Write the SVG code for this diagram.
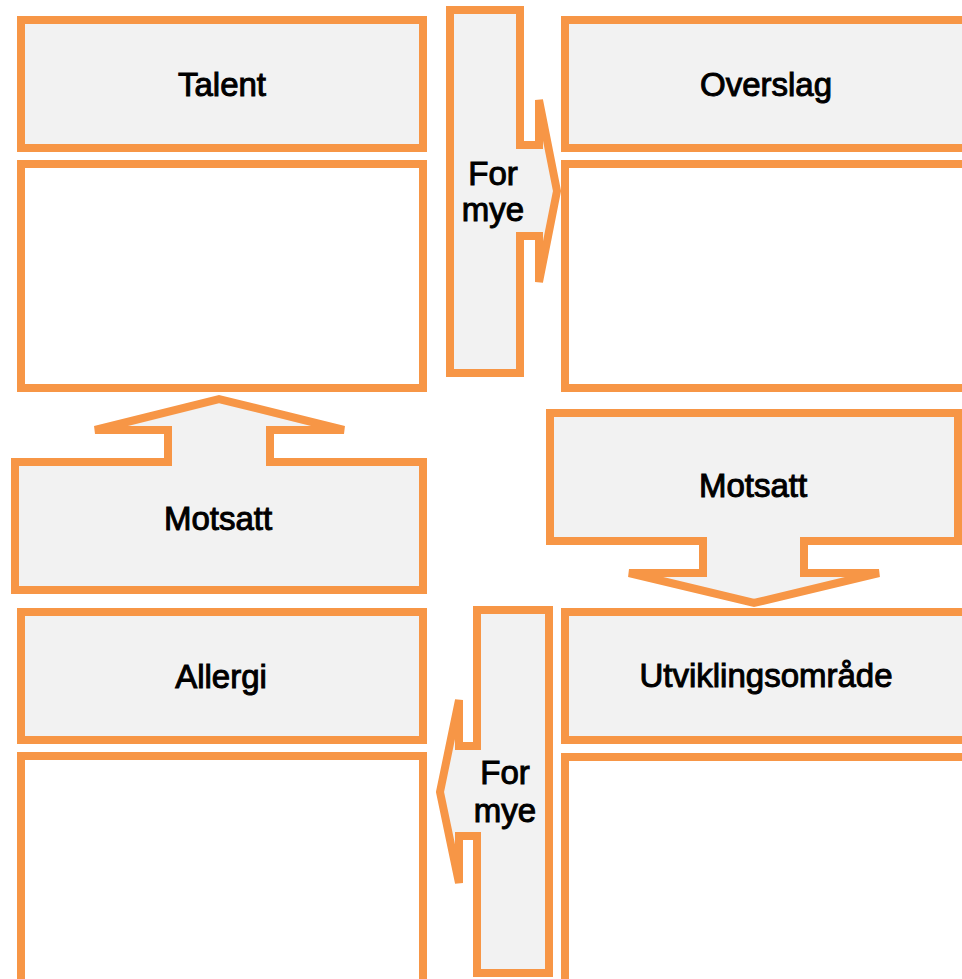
<svg xmlns="http://www.w3.org/2000/svg" width="962" height="979" viewBox="0 0 962 979">
<style>
.box{fill:#F2F2F2;stroke:#F79646;stroke-width:8}
.empty{fill:#FFFFFF;stroke:#F79646;stroke-width:8}
.lbl{font-family:"Liberation Sans",Arial,sans-serif;font-size:33px;fill:#000;stroke:#000;stroke-width:1;text-anchor:middle}
</style>
<rect width="962" height="979" fill="#FFFFFF"/>
<g id="talent">
<rect class="box" x="21" y="20" width="402" height="128"/>
<text class="lbl" x="222" y="96">Talent</text>
</g>
<g id="talent-empty"><rect class="empty" x="21" y="164" width="402" height="224"/></g>
<g id="overslag">
<rect class="box" x="565" y="20" width="402" height="128"/>
<text class="lbl" x="766" y="96">Overslag</text>
</g>
<g id="overslag-empty"><rect class="empty" x="565" y="164" width="402" height="224"/></g>
<g id="allergi">
<rect class="box" x="21" y="612" width="402" height="128"/>
<text class="lbl" x="221" y="688">Allergi</text>
</g>
<g id="allergi-empty"><rect class="empty" x="21" y="756" width="402" height="240"/></g>
<g id="utvikling">
<rect class="box" x="565" y="612" width="402" height="128"/>
<text class="lbl" x="766" y="687">Utviklingsområde</text>
</g>
<g id="utvikling-empty"><rect class="empty" x="565" y="757" width="402" height="240"/></g>
<g id="connectors">
<g id="formye-top">
<path class="box" d="M450,10 H520 V145 H539 V100 L557,191 L539,282 V236 H520 V373 H450 Z"/>
<text class="lbl" x="493" y="185">For</text>
<text class="lbl" x="493" y="221">mye</text>
</g>
<g id="motsatt-left">
<path class="box" d="M15,462 H168 V430 H95 L219,399 L344,430 H270 V462 H423 V590 H15 Z"/>
<text class="lbl" x="218" y="530">Motsatt</text>
</g>
<g id="motsatt-right">
<path class="box" d="M550,413 H958 V541 H804 V573 H879 L754,603 L629,573 H703 V541 H550 Z"/>
<text class="lbl" x="753" y="497">Motsatt</text>
</g>
<g id="formye-bottom">
<path class="box" d="M477,610 H549 V973 H477 V836 H459 V883 L440,792 L459,700 V746 H477 Z"/>
<text class="lbl" x="505" y="784">For</text>
<text class="lbl" x="505" y="822">mye</text>
</g>
</g>
</svg>
